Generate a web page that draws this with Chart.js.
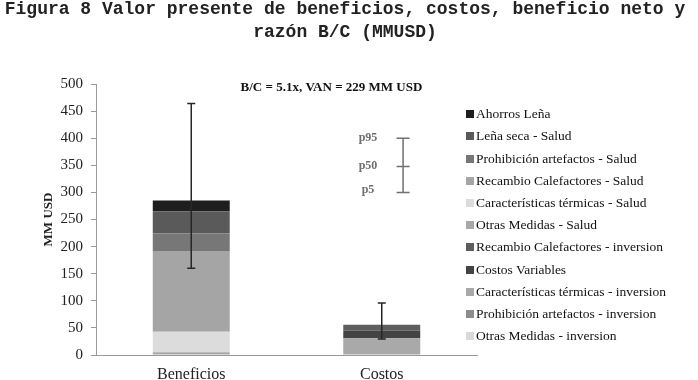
<!DOCTYPE html>
<html><head><meta charset="utf-8">
<script src="https://cdn.jsdelivr.net/npm/chart.js@4"></script>
<style>
html,body{margin:0;padding:0;background:#fff;}
#wrap{position:relative;width:698px;height:380px;}
#title{position:absolute;left:0;top:-2px;width:690px;text-align:center;font-family:'Liberation Mono','Courier New',monospace;font-weight:bold;font-size:18px;line-height:23px;color:#222;white-space:nowrap;}
#legend{position:absolute;left:466px;top:103.2px;font-family:'Liberation Serif','Times New Roman',serif;font-size:13.5px;color:#111;}
#legend .row{height:22.2px;display:flex;align-items:center;white-space:nowrap;}
#legend .sw{width:8px;height:8px;margin-right:2px;flex:none;}
</style></head>
<body><div id="wrap"><canvas id="c" width="698" height="380"></canvas>
<div id="title">Figura 8 Valor presente de beneficios, costos, beneficio neto y<br>razón B/C (MMUSD)</div>
<div id="legend"></div></div>
<script>
// ---- data (stack order: bottom to top) ----
const categories = ['Beneficios', 'Costos'];
const otrasMedidasInversion      = [0, 0];
const prohibicionInversion       = [0, 0];
const caracteristicasInversion   = [0, 31];
const costosVariables            = [0, 14];
const recambioInversion          = [0, 11];
const otrasMedidasSalud          = [5, 0];
const caracteristicasSalud       = [38, 0];
const recambioSalud              = [149, 0];
const prohibicionSalud           = [32, 0];
const lenaSecaSalud              = [41, 0];
const ahorrosLena                = [20, 0];
const p5Values  = [160, 29.5];
const p95Values = [464, 96];
const yTicks = [0, 50, 100, 150, 200, 250, 300, 350, 400, 450, 500];
const keyLabels = ['p95', 'p50', 'p5'];
const keyValues = [400, 348, 300];

const seriesDefs = [
  ['Otras Medidas - inversion', otrasMedidasInversion, '#d9d9d9'],
  ['Prohibición artefactos - inversion', prohibicionInversion, '#8c8c8c'],
  ['Características térmicas - inversion', caracteristicasInversion, '#a9a9a9'],
  ['Costos Variables', costosVariables, '#434343'],
  ['Recambio Calefactores - inversion', recambioInversion, '#5e5e5e'],
  ['Otras Medidas - Salud', otrasMedidasSalud, '#a8a8a8'],
  ['Características térmicas - Salud', caracteristicasSalud, '#dcdcdc'],
  ['Recambio Calefactores - Salud', recambioSalud, '#a5a5a5'],
  ['Prohibición artefactos - Salud', prohibicionSalud, '#777777'],
  ['Leña seca - Salud', lenaSecaSalud, '#5a5a5a'],
  ['Ahorros Leña', ahorrosLena, '#1e1e1e']
];

const totals = categories.map((_, i) => seriesDefs.reduce((s, d) => s + d[1][i], 0));
const bc = (totals[0] / totals[1]).toFixed(1);
const van = Math.round(totals[0] - totals[1]);
const annotation = 'B/C = ' + bc + 'x, VAN = ' + van + ' MM USD';

const SERIF = "'Liberation Serif','Times New Roman',serif";

const errorBars = {
  id: 'errorBars',
  afterDatasetsDraw(chart) {
    const ctx = chart.ctx, x = chart.scales.x, y = chart.scales.y;
    ctx.save();
    ctx.strokeStyle = '#262626';
    ctx.lineWidth = 1.5;
    categories.forEach((c, i) => {
      const px = x.getPixelForValue(i);
      const yt = y.getPixelForValue(p95Values[i]);
      const yb = y.getPixelForValue(p5Values[i]);
      ctx.beginPath();
      ctx.moveTo(px, yt); ctx.lineTo(px, yb);
      ctx.moveTo(px - 4, yt); ctx.lineTo(px + 4, yt);
      ctx.moveTo(px - 4, yb); ctx.lineTo(px + 4, yb);
      ctx.stroke();
    });
    // key (p95 / p50 / p5)
    const kx = x.getPixelForValue(1.112);
    const lx = x.getPixelForValue(0.928);
    const ky = keyValues.map(v => y.getPixelForValue(v));
    ctx.strokeStyle = '#707070';
    ctx.beginPath();
    ctx.moveTo(kx, ky[0]); ctx.lineTo(kx, ky[2]);
    ky.forEach(yy => { ctx.moveTo(kx - 6.5, yy); ctx.lineTo(kx + 6.5, yy); });
    ctx.stroke();
    ctx.fillStyle = '#6f6f6f';
    ctx.font = 'bold 12px ' + SERIF;
    ctx.textAlign = 'center';
    ctx.textBaseline = 'middle';
    keyLabels.forEach((t, i) => ctx.fillText(t, lx, ky[i] + (i === 2 ? -2 : 0)));
    // annotation
    ctx.fillStyle = '#111';
    ctx.font = 'bold 13px ' + SERIF;
    ctx.fillText(annotation, x.getPixelForValue(0.736), chart.chartArea.top + 4);
    ctx.restore();
  }
};

const chart = new Chart(document.getElementById('c'), {
  type: 'bar',
  data: {
    labels: categories,
    datasets: seriesDefs.map(d => ({
      label: d[0], data: d[1], backgroundColor: d[2], borderWidth: 0,
      categoryPercentage: 1, barPercentage: 0.404
    }))
  },
  options: {
    responsive: false,
    animation: false,
    devicePixelRatio: 1,
    layout: { padding: { left: 37, right: 221, top: 84, bottom: 0 } },
    plugins: {
      legend: { display: false },
      tooltip: { enabled: false },
      title: { display: false }
    },
    scales: {
      x: {
        stacked: true,
        grid: { display: false },
        border: { display: true, color: '#9a9a9a', width: 1 },
        ticks: { font: { family: SERIF, size: 16 }, color: '#222', padding: 2.5 },
        afterFit(s) { s.height = 25; }
      },
      y: {
        stacked: true,
        min: 0, max: 500,
        afterBuildTicks(s) { s.ticks = yTicks.map(v => ({ value: v })); },
        grid: { display: true, drawOnChartArea: false, drawTicks: true, tickLength: 5, color: '#9a9a9a' },
        border: { display: true, color: '#9a9a9a', width: 1 },
        ticks: { font: { family: SERIF, size: 15 }, color: '#222', padding: 8 },
        title: { display: true, text: 'MM USD', font: { family: SERIF, size: 13, weight: 'bold' }, color: '#222', padding: { top: 4, bottom: 4 } },
        afterFit(s) { s.width = 59; }
      }
    }
  },
  plugins: [errorBars]
});

// HTML legend (top of stack first)
const lg = document.getElementById('legend');
seriesDefs.slice().reverse().forEach(d => {
  const row = document.createElement('div'); row.className = 'row';
  const sw = document.createElement('span'); sw.className = 'sw'; sw.style.background = d[2];
  const tx = document.createElement('span'); tx.textContent = d[0];
  row.appendChild(sw); row.appendChild(tx); lg.appendChild(row);
});
</script>
</body></html>
